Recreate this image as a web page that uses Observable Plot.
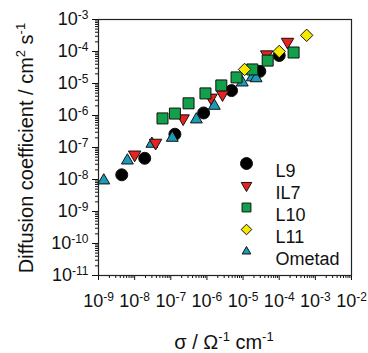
<!DOCTYPE html>
<html><head><meta charset="utf-8">
<script src="https://cdn.jsdelivr.net/npm/d3@7"></script>
<script src="https://cdn.jsdelivr.net/npm/@observablehq/plot@0.6"></script>
<style>
body{margin:0;background:#fff;}
#chart{width:368px;height:353px;font-family:"Liberation Sans",Arial,sans-serif;}
</style>
</head><body><div id="chart"></div>
<script>
// Data (conductivity σ in Ω⁻¹cm⁻¹, diffusion coefficient in cm² s⁻¹)
const L9_x = [4.4e-9, 1.9e-8, 1.3e-7, 8.1e-7, 4.8e-6, 2.9e-5, 1.0e-4];
const L9_y = [1.4e-8, 4.6e-8, 2.6e-7, 1.2e-6, 6.0e-6, 2.4e-5, 7.5e-5];
const IL7_x = [1.0e-8, 3.8e-8, 2.2e-7, 1.3e-6, 2.7e-6, 4.5e-5, 1.7e-4];
const IL7_y = [6.0e-8, 1.4e-7, 8.1e-7, 3.6e-6, 4.6e-6, 8.1e-5, 2.0e-4];
const L10_x = [5.9e-8, 1.3e-7, 3.1e-7, 9.1e-7, 2.5e-6, 6.6e-6, 1.8e-5, 4.8e-5, 2.5e-4];
const L10_y = [8.1e-7, 1.15e-6, 2.4e-6, 4.9e-6, 8.7e-6, 1.55e-5, 2.75e-5, 5.2e-5, 9.3e-5];
const L11_x = [1.1e-5, 1.0e-4, 5.75e-4];
const L11_y = [2.75e-5, 1.0e-4, 3.2e-4];
const Ometad_x = [1.4e-9, 6.3e-9, 3.0e-8, 1.1e-7, 5.1e-7, 1.6e-6, 9.5e-6, 1.8e-5, 2.3e-5];
const Ometad_y = [9.3e-9, 3.9e-8, 1.3e-7, 2.0e-7, 7.5e-7, 2.0e-6, 1.07e-5, 1.55e-5, 1.45e-5];

const seriesNames = ["L9", "IL7", "L10", "L11", "Ometad"];
const xTickExp = [-9, -8, -7, -6, -5, -4, -3, -2];
const yTickExp = [-11, -10, -9, -8, -7, -6, -5, -4, -3];

const zip = (xs, ys) => xs.map((x, i) => ({x, y: ys[i]}));
const majorX = xTickExp.map(e => Math.pow(10, e));
const majorY = yTickExp.map(e => Math.pow(10, e));
const minorOf = exps => exps.slice(0, -1).flatMap(e => [2,3,4,5,6,7,8,9].map(m => m * Math.pow(10, e)));
const minorX = minorOf(xTickExp);
const minorY = minorOf(yTickExp);
const fmt = d => "10^" + Math.round(Math.log10(d));

const styles = {
  L9:     {symbol: "circle",   fill: "#000000", r: 6,   rotate: 0,   lr: 6},
  IL7:    {symbol: "triangle", fill: "#e8231f", r: 4.6, rotate: 180, lr: 3.9},
  L10:    {symbol: "square",   fill: "#13a04a", r: 6.2, rotate: 0,   lr: 5},
  L11:    {symbol: "diamond2", fill: "#f4ea00", r: 5.6, rotate: 0,   lr: 4.8},
  Ometad: {symbol: "triangle", fill: "#1b9bb7", r: 4.4, rotate: 0,   lr: 3.2}
};
const data = {
  L9: zip(L9_x, L9_y), IL7: zip(IL7_x, IL7_y), L10: zip(L10_x, L10_y),
  L11: zip(L11_x, L11_y), Ometad: zip(Ometad_x, Ometad_y)
};
const drawOrder = ["L9", "Ometad", "IL7", "L10", "L11"];

const dotMark = (name) => {
  const s = styles[name];
  return Plot.dot(data[name], {x: "x", y: "y", symbol: () => s.symbol, r: s.r, fill: s.fill,
    stroke: "#111", strokeWidth: 1, rotate: s.rotate});
};

const legendMarks = seriesNames.flatMap((name, i) => {
  const s = styles[name];
  return [
    Plot.dot([name], {frameAnchor: "top-left", dx: 148, dy: 144 + i * 22, symbol: () => s.symbol,
      r: s.lr, fill: s.fill, stroke: "#111", strokeWidth: 1, rotate: s.rotate}),
    Plot.text([name], {frameAnchor: "top-left", dx: 177, dy: 145 + i * 22, text: d => d,
      textAnchor: "start", fontSize: 18, fill: "#111"})
  ];
});

const plot = Plot.plot({
  width: 368, height: 353,
  marginLeft: 98, marginRight: 17, marginTop: 19, marginBottom: 78,
  style: {fontFamily: "'Liberation Sans', Arial, sans-serif", background: "#fff", color: "#111"},
  x: {type: "log", domain: [1e-9, 1e-2]},
  y: {type: "log", domain: [1e-11, 1e-3]},
  marks: [
    Plot.axisY({ticks: minorY, tickSize: 3, tickFormat: () => "", label: null}),
    Plot.axisX({ticks: minorX, tickSize: 3, tickFormat: () => "", label: null}),
    Plot.axisY({ticks: majorY, tickSize: 6, tickPadding: 4, tickFormat: fmt, fontSize: 18, label: null}),
    Plot.axisX({ticks: majorX, tickSize: 5, tickPadding: 14, tickFormat: fmt, fontSize: 18, label: null}),
    Plot.frame({stroke: "#222", strokeWidth: 1.2}),
    ...drawOrder.map(dotMark),
    ...legendMarks
  ]
});
document.getElementById("chart").appendChild(plot);

const svg = d3.select(plot);
// superscript tick labels
svg.selectAll("text").each(function() {
  const t = d3.select(this);
  const s = this.textContent;
  if (!s.includes("^")) return;
  const [base, exp] = s.split("^");
  t.text(null);
  t.append("tspan").text(base);
  t.append("tspan").attr("dy", "-0.5em").attr("font-size", "12px").text(exp.replace("−", "-"));
});

// axis titles
const yl = svg.append("text")
  .attr("transform", "translate(33,148) rotate(-90)")
  .attr("text-anchor", "middle")
  .attr("font-size", "20px").attr("fill", "#111");
yl.append("tspan").text("Diffusion coefficient / cm");
yl.append("tspan").attr("dy", -8).attr("font-size", "13px").text("2");
yl.append("tspan").attr("dy", 8).text(" s");
yl.append("tspan").attr("dy", -8).attr("font-size", "13px").text("-1");

const xl = svg.append("text")
  .attr("x", 224).attr("y", 349)
  .attr("text-anchor", "middle")
  .attr("font-size", "20px").attr("fill", "#111");
xl.append("tspan").text("σ / Ω");
xl.append("tspan").attr("dy", -8).attr("font-size", "13px").text("-1");
xl.append("tspan").attr("dy", 8).text(" cm");
xl.append("tspan").attr("dy", -8).attr("font-size", "13px").text("-1");
</script>
</body></html>
